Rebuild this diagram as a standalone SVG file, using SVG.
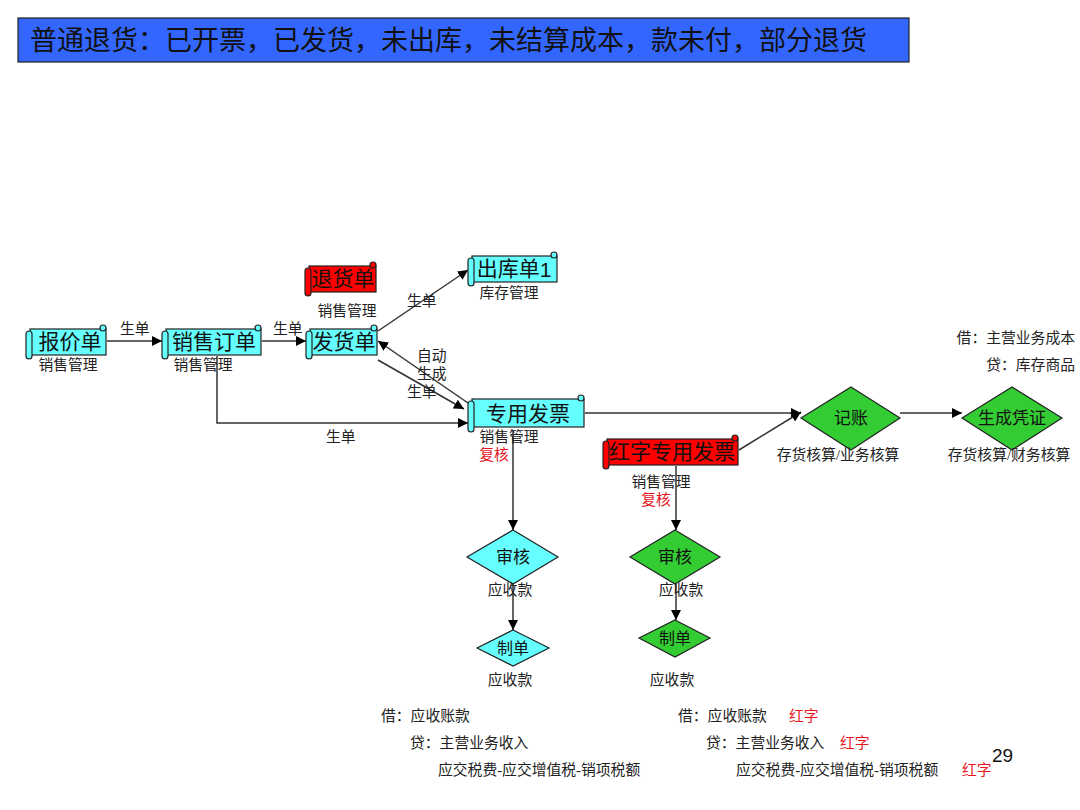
<svg xmlns="http://www.w3.org/2000/svg" width="1080" height="810" viewBox="0 0 1080 810">
<defs>
<marker id="arr" viewBox="0 0 10 10" refX="10" refY="5" markerWidth="10" markerHeight="10" markerUnits="userSpaceOnUse" orient="auto"><path d="M0,0 L10,5 L0,10 z" fill="#000"/></marker>
<style>
text{font-family:"Liberation Serif","Noto Sans CJK SC",serif;fill:#222}
.t{font-size:14.8px}
.n{font-size:21px;text-anchor:middle;dominant-baseline:central;fill:#111}
.d{font-size:17px;text-anchor:middle;dominant-baseline:central;fill:#111}
.c{text-anchor:middle}
.r{fill:#e8141c}
.cy{fill:#66ffff;stroke:#222;stroke-width:1.2}
.rd{fill:#ff0000;stroke:#222;stroke-width:1.2}
.gr{fill:#33cc33;stroke:#222;stroke-width:1.2}
.ln{stroke:#333;stroke-width:1.5;fill:none}
</style>
</defs>
<rect width="1080" height="810" fill="#fff"/>
<g id="title">
<rect x="18" y="18" width="891" height="44" fill="#3366ff" stroke="#222" stroke-width="1.2"/>
<text x="30" y="50" style="font-size:27px;fill:#111">普通退货：已开票，已发货，未出库，未结算成本，款未付，部分退货</text>
</g>
<g id="connectors">
<line class="ln" x1="107" y1="341" x2="162" y2="341" marker-end="url(#arr)"/>
<line class="ln" x1="262" y1="341" x2="306" y2="341" marker-end="url(#arr)"/>
<polyline class="ln" points="217,356 217,423 468,423" marker-end="url(#arr)"/>
<line class="ln" x1="378" y1="331" x2="468" y2="270" marker-end="url(#arr)"/>
<line class="ln" x1="468" y1="403" x2="378" y2="341" marker-end="url(#arr)"/>
<line class="ln" x1="378" y1="360" x2="464" y2="409" marker-end="url(#arr)"/>
<line class="ln" x1="585" y1="413" x2="801" y2="413" marker-end="url(#arr)"/>
<line class="ln" x1="739" y1="450" x2="801" y2="412" marker-end="url(#arr)"/>
<line class="ln" x1="900" y1="413" x2="962" y2="413" marker-end="url(#arr)"/>
<line class="ln" x1="513" y1="430" x2="513" y2="530" marker-end="url(#arr)"/>
<line class="ln" x1="513" y1="584" x2="513" y2="630" marker-end="url(#arr)"/>
<line class="ln" x1="676" y1="466" x2="676" y2="530" marker-end="url(#arr)"/>
<line class="ln" x1="676" y1="584" x2="676" y2="620" marker-end="url(#arr)"/>
<text class="t" x="120" y="334">生单</text>
<text class="t" x="273" y="334">生单</text>
<text class="t" x="326" y="442">生单</text>
<text class="t" x="407" y="306">生单</text>
<text class="t" x="417" y="361">自动</text>
<text class="t" x="417" y="379">生成</text>
<text class="t" x="407" y="397">生单</text>
</g>
<g id="baojiadan">
<rect class="cy" x="30" y="329" width="76" height="26"/>
<rect class="cy" x="26" y="331" width="6" height="28" rx="3"/>
<circle class="cy" cx="103" cy="328" r="3"/>
<text class="n" x="70" y="342">报价单</text>
<text class="t c" x="68" y="370">销售管理</text>
</g>
<g id="xiaoshoudingdan">
<rect class="cy" x="166" y="329" width="95" height="26"/>
<rect class="cy" x="162" y="331" width="6" height="28" rx="3"/>
<circle class="cy" cx="258" cy="328" r="3"/>
<text class="n" x="214" y="342">销售订单</text>
<text class="t c" x="203" y="370">销售管理</text>
</g>
<g id="fahuodan">
<rect class="cy" x="310" y="329" width="67" height="26"/>
<rect class="cy" x="306" y="331" width="6" height="28" rx="3"/>
<circle class="cy" cx="374" cy="328" r="3"/>
<text class="n" x="344" y="342">发货单</text>
</g>
<g id="tuihuodan">
<rect class="rd" x="309" y="266" width="67" height="26"/>
<rect class="rd" x="305" y="268" width="6" height="28" rx="3"/>
<circle class="rd" cx="373" cy="265" r="3"/>
<text class="n" x="343" y="279">退货单</text>
<text class="t c" x="347" y="316">销售管理</text>
</g>
<g id="chukudan">
<rect class="cy" x="472" y="256" width="85" height="26"/>
<rect class="cy" x="468" y="258" width="6" height="28" rx="3"/>
<circle class="cy" cx="554" cy="255" r="3"/>
<text class="n" x="514" y="269">出库单<tspan style="font-family:'Liberation Sans',sans-serif">1</tspan></text>
<text class="t c" x="509" y="298">库存管理</text>
</g>
<g id="zhuanyongfapiao">
<rect class="cy" x="472" y="399" width="112" height="28"/>
<rect class="cy" x="468" y="401" width="6" height="31" rx="3"/>
<circle class="cy" cx="581" cy="398" r="3"/>
<text class="n" x="528" y="414">专用发票</text>
<text class="t c" x="509" y="442">销售管理</text>
<text class="t c r" x="494" y="460">复核</text>
</g>
<g id="hongzifapiao">
<rect class="rd" x="607" y="439" width="131" height="26"/>
<rect class="rd" x="603" y="441" width="6" height="28" rx="3"/>
<circle class="rd" cx="735" cy="438" r="3"/>
<text class="n" x="672" y="452">红字专用发票</text>
<text class="t c" x="661" y="487">销售管理</text>
<text class="t c r" x="656" y="505">复核</text>
</g>
<g id="jizhang">
<polygon class="gr" points="851,387 900,418 851,450 801,418"/>
<text class="d" x="851" y="418">记账</text>
<text class="t c" x="838" y="460">存货核算/业务核算</text>
</g>
<g id="shengchengpingzheng">
<polygon class="gr" points="1012,387 1062,418 1012,450 962,418"/>
<text class="d" x="1012" y="418">生成凭证</text>
<text class="t c" x="1009" y="460">存货核算/财务核算</text>
<text class="t" x="1075" y="343" text-anchor="end">借：主营业务成本</text>
<text class="t" x="1075" y="370" text-anchor="end">贷：库存商品</text>
</g>
<g id="shenhe1">
<polygon class="cy" points="513,530 558,557 513,584 467,557"/>
<text class="d" x="513" y="557">审核</text>
<text class="t c" x="510" y="595">应收款</text>
</g>
<g id="zhidan1">
<polygon class="cy" points="513,630 549,648 513,666 477,648"/>
<text class="d" x="513" y="648" style="font-size:16px">制单</text>
<text class="t c" x="510" y="685">应收款</text>
</g>
<g id="shenhe2">
<polygon class="gr" points="675,530 720,557 675,584 630,557"/>
<text class="d" x="675" y="557">审核</text>
<text class="t c" x="681" y="595">应收款</text>
</g>
<g id="zhidan2">
<polygon class="gr" points="675,620 710,638 675,657 639,638"/>
<text class="d" x="675" y="638" style="font-size:16px">制单</text>
<text class="t c" x="672" y="685">应收款</text>
</g>
<g id="entries">
<text class="t" x="381" y="721">借：应收账款</text>
<text class="t" x="410" y="748">贷：主营业务收入</text>
<text class="t" x="438" y="775">应交税费-应交增值税-销项税额</text>
<text class="t" x="678" y="721">借：应收账款</text>
<text class="t r" x="789" y="721">红字</text>
<text class="t" x="706" y="748">贷：主营业务收入</text>
<text class="t r" x="840" y="748">红字</text>
<text class="t" x="736" y="775">应交税费-应交增值税-销项税额</text>
<text class="t r" x="962" y="775">红字</text>
<text x="992" y="762" style="font-family:'Liberation Sans',sans-serif;font-size:19px;fill:#111">29</text>
</g>
</svg>
